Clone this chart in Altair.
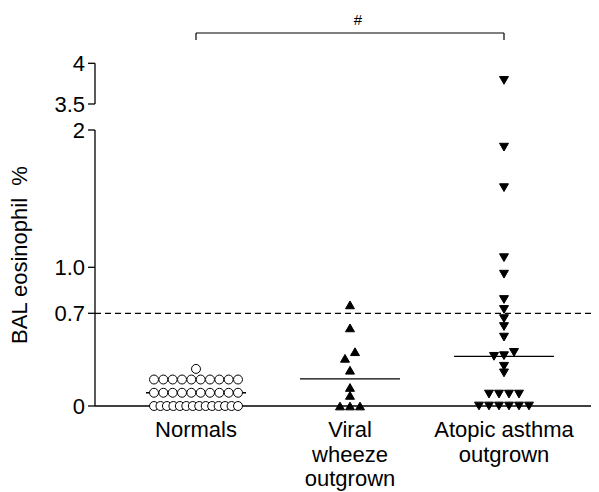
import altair as alt
import pandas as pd

# ---- data ----
groups = ["Normals", "Viral wheeze outgrown", "Atopic asthma outgrown"]
group_labels = [["Normals"], ["Viral", "wheeze", "outgrown"], ["Atopic asthma", "outgrown"]]

normals = [0, 0, 0, 0, 0, 0, 0, 0, 0, 0, 0, 0, 0, 0,
           0.1, 0.1, 0.1, 0.1, 0.1, 0.1, 0.1, 0.1, 0.1, 0.1,
           0.2, 0.2, 0.2, 0.2, 0.2, 0.2, 0.2, 0.2, 0.2, 0.2,
           0.28]
viral = [0, 0, 0, 0.08, 0.14, 0.27, 0.36, 0.41, 0.59, 0.755]
atopic = [0, 0, 0, 0, 0, 0, 0.09, 0.09, 0.09, 0.09,
          0.25, 0.30, 0.375, 0.38, 0.405, 0.52, 0.60, 0.66, 0.725, 0.79,
          0.955, 1.07, 1.58, 1.875, 3.79]

y_ticks = [0, 0.7, 1, 2, 3.5, 4]
y_tick_labels = ["0", "0.7", "1.0", "2", "3.5", "4"]
y_title = "BAL eosinophil\u00a0\u00a0%"
threshold = [0.7]
axis_segments_lo = [0, 3.5]
axis_segments_hi = [2, 4]
signif_text = ["#"]

rows = []
for i, (g, vals) in enumerate(zip(groups, [normals, viral, atopic])):
    for v in vals:
        rows.append({"group": g, "idx": i, "value": v})
df = pd.DataFrame(rows)

labels_df = pd.DataFrame({"idx": [0, 1, 2], "label": ["\n".join(l) for l in group_labels]})
ticks_df = pd.DataFrame({"v": y_ticks, "label": y_tick_labels})

STEP = 154.0  # pixels between category centres
PLOT_W, PLOT_H = 496, 396
FONT = "Liberation Sans"

xscale = alt.Scale(domain=[-101 / STEP, (PLOT_W - 101) / STEP], nice=False, zero=False)
yscale = alt.Scale(domain=y_ticks, range=[396, 303.3, 257.3, 120, 94, 53.3], nice=False, zero=False)

base = alt.Chart(df)

points = base.transform_calculate(
    bin="floor(datum.value / 0.06)"
).transform_window(
    rank="row_number()", groupby=["idx", "bin"], sort=[alt.SortField("value")]
).transform_joinaggregate(
    n="count()", groupby=["idx", "bin"]
).transform_calculate(
    gap="min(10, 84 / max(datum.n - 1, 1))"
).transform_calculate(
    xpos=f"datum.idx + (datum.rank - (datum.n + 1) / 2) * datum.gap / {STEP}"
).mark_point(size=80, stroke="black", strokeWidth=1, opacity=1, fillOpacity=1).encode(
    x=alt.X("xpos:Q", scale=xscale, axis=None),
    y=alt.Y("value:Q", scale=yscale, axis=None),
    shape=alt.Shape("group:N", scale=alt.Scale(domain=groups, range=["circle", "triangle-up", "triangle-down"]), legend=None),
    fill=alt.Fill("group:N", scale=alt.Scale(domain=groups, range=["white", "black", "black"]), legend=None),
)

medians = base.transform_aggregate(
    med="median(value)", groupby=["idx"]
).transform_calculate(
    x1=f"datum.idx - 50 / {STEP}", x2=f"datum.idx + 50 / {STEP}"
).mark_rule(color="black", strokeWidth=1.4).encode(
    x=alt.X("x1:Q", scale=xscale, axis=None),
    x2="x2:Q",
    y=alt.Y("med:Q", scale=yscale, axis=None),
)

dashed = alt.Chart(pd.DataFrame({"t": threshold})).mark_rule(
    color="black", strokeWidth=1.2, strokeDash=[6, 4]
).encode(y=alt.Y("t:Q", scale=yscale, axis=None))

# y axis (broken): two line segments, ticks, labels, title
yaxis_lines = alt.Chart(pd.DataFrame({"lo": axis_segments_lo, "hi": axis_segments_hi})).mark_rule(
    color="black", strokeWidth=1.3
).encode(y=alt.Y("lo:Q", scale=yscale, axis=None), y2="hi:Q", x=alt.value(0))

yticks = alt.Chart(ticks_df).mark_rule(color="black", strokeWidth=1.3).encode(
    y=alt.Y("v:Q", scale=yscale, axis=None), x=alt.value(-7), x2=alt.value(0)
)
ylabels = alt.Chart(ticks_df).mark_text(
    font=FONT, fontSize=22, color="black", align="right", baseline="middle", dy=1
).encode(y=alt.Y("v:Q", scale=yscale, axis=None), x=alt.value(-10), text="label:N")

ytitle = alt.Chart(pd.DataFrame({"t": [y_title]})).mark_text(
    font=FONT, fontSize=22, color="black", angle=270, align="center", baseline="middle"
).encode(x=alt.value(-75), y=alt.value(245), text="t:N")

# x axis line at zero
xaxis_line = alt.Chart(pd.DataFrame({"z": [0]})).mark_rule(color="black", strokeWidth=1.3).encode(
    y=alt.Y("z:Q", scale=yscale, axis=None)
)

xlabels = alt.Chart(labels_df).mark_text(
    font=FONT, fontSize=22, color="black", baseline="alphabetic", align="center",
    lineBreak="\n", lineHeight=24.5
).encode(x=alt.X("idx:Q", scale=xscale, axis=None), y=alt.value(PLOT_H + 31), text="label:N")

bracket_h = alt.Chart(pd.DataFrame({"a": [0], "b": [2]})).mark_rule(color="black", strokeWidth=1.2).encode(
    x=alt.X("a:Q", scale=xscale, axis=None), x2="b:Q", y=alt.value(23)
)
bracket_v = alt.Chart(pd.DataFrame({"a": [0, 2]})).mark_rule(color="black", strokeWidth=1.2).encode(
    x=alt.X("a:Q", scale=xscale, axis=None), y=alt.value(23), y2=alt.value(30)
)
bracket_t = alt.Chart(pd.DataFrame({"a": [1], "t": signif_text})).mark_text(
    font=FONT, fontSize=15, color="black", baseline="middle", dx=8
).encode(x=alt.X("a:Q", scale=xscale, axis=None), y=alt.value(10), text="t:N")

chart = alt.layer(
    dashed, xaxis_line, yaxis_lines, yticks, ylabels, ytitle, medians, points,
    xlabels, bracket_h, bracket_v, bracket_t
).properties(
    width=PLOT_W, height=PLOT_H,
    autosize=alt.AutoSizeParams(type="none"),
    padding={"left": 87, "top": 2, "right": 0, "bottom": 86},
).configure_view(stroke=None)

chart.save("out.html", embed_options={"renderer": "svg", "actions": False})
